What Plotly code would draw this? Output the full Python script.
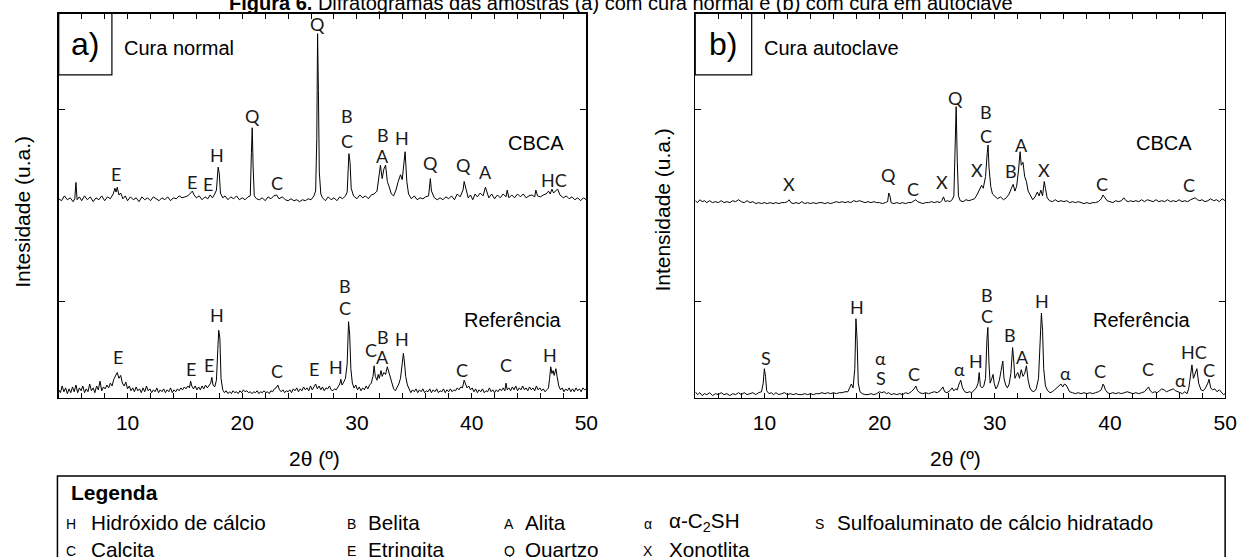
import plotly.graph_objects as go

# ---------------- data (2theta in degrees, intensity in a.u.) ----------------
# Panel a) Cura normal - CBCA (offset pattern)
a_cbca = [
    (4.0, 2.07), (4.25, 2.05), (4.5, 2.10), (4.75, 2.06), (5.0, 2.08), (5.25, 2.04), (5.4, 2.07), (5.5, 2.24),
    (5.6, 2.06), (5.8, 2.09), (6.0, 2.05), (6.25, 2.10), (6.5, 2.06), (6.75, 2.09), (7.0, 2.04), (7.25, 2.08),
    (7.5, 2.06), (7.75, 2.10), (8.0, 2.05), (8.25, 2.09), (8.5, 2.07), (8.75, 2.12), (8.9, 2.18), (9.0, 2.14),
    (9.1, 2.19), (9.25, 2.11), (9.4, 2.13), (9.6, 2.07), (9.8, 2.10), (10.0, 2.05), (10.25, 2.09), (10.5, 2.06),
    (10.75, 2.08), (11.0, 2.04), (11.25, 2.09), (11.5, 2.06), (11.75, 2.08), (12.0, 2.05), (12.25, 2.09),
    (12.5, 2.07), (12.75, 2.05), (13.0, 2.08), (13.25, 2.06), (13.5, 2.09), (13.75, 2.05), (14.0, 2.08),
    (14.25, 2.07), (14.5, 2.10), (14.75, 2.08), (15.0, 2.09), (15.25, 2.10), (15.5, 2.13), (15.65, 2.15),
    (15.8, 2.11), (16.0, 2.08), (16.25, 2.10), (16.5, 2.06), (16.75, 2.09), (17.0, 2.07), (17.2, 2.11),
    (17.4, 2.08), (17.6, 2.12), (17.75, 2.16), (17.9, 2.40), (18.0, 2.33), (18.1, 2.13), (18.3, 2.08),
    (18.5, 2.10), (18.75, 2.06), (19.0, 2.09), (19.25, 2.07), (19.5, 2.10), (19.75, 2.06), (20.0, 2.08),
    (20.25, 2.06), (20.5, 2.09), (20.7, 2.10), (20.8, 2.55), (20.87, 2.81), (20.95, 2.40), (21.05, 2.10),
    (21.25, 2.07), (21.5, 2.06), (21.75, 2.08), (22.0, 2.05), (22.25, 2.09), (22.5, 2.07), (22.75, 2.10),
    (23.0, 2.11), (23.2, 2.07), (23.5, 2.09), (23.75, 2.06), (24.0, 2.05), (24.25, 2.07), (24.5, 2.05),
    (24.75, 2.06), (25.0, 2.04), (25.25, 2.06), (25.5, 2.05), (25.75, 2.07), (26.0, 2.06), (26.25, 2.10),
    (26.4, 2.15), (26.5, 2.70), (26.57, 3.79), (26.64, 3.20), (26.72, 2.35), (26.85, 2.12), (27.0, 2.08),
    (27.25, 2.05), (27.5, 2.09), (27.75, 2.06), (28.0, 2.08), (28.25, 2.05), (28.5, 2.09), (28.75, 2.07),
    (29.0, 2.10), (29.15, 2.14), (29.3, 2.54), (29.4, 2.45), (29.5, 2.18), (29.7, 2.10), (30.0, 2.07),
    (30.25, 2.11), (30.5, 2.08), (30.75, 2.10), (31.0, 2.07), (31.25, 2.11), (31.5, 2.12), (31.75, 2.15),
    (31.9, 2.30), (32.05, 2.42), (32.2, 2.28), (32.35, 2.38), (32.5, 2.42), (32.65, 2.25), (32.8, 2.20),
    (33.0, 2.12), (33.2, 2.10), (33.4, 2.16), (33.6, 2.25), (33.8, 2.32), (33.95, 2.27), (34.1, 2.50),
    (34.2, 2.56), (34.35, 2.25), (34.5, 2.12), (34.75, 2.07), (35.0, 2.10), (35.25, 2.06), (35.5, 2.08),
    (35.75, 2.07), (36.0, 2.09), (36.25, 2.10), (36.4, 2.28), (36.5, 2.15), (36.75, 2.08), (37.0, 2.06),
    (37.25, 2.08), (37.5, 2.06), (37.75, 2.09), (38.0, 2.07), (38.25, 2.10), (38.5, 2.06), (38.75, 2.12),
    (39.0, 2.09), (39.25, 2.16), (39.35, 2.25), (39.5, 2.18), (39.7, 2.08), (39.9, 2.11), (40.1, 2.06),
    (40.3, 2.12), (40.5, 2.09), (40.75, 2.13), (41.0, 2.10), (41.2, 2.19), (41.35, 2.14), (41.5, 2.08),
    (41.75, 2.12), (42.0, 2.07), (42.25, 2.11), (42.5, 2.08), (42.75, 2.12), (43.0, 2.09), (43.1, 2.16),
    (43.25, 2.08), (43.5, 2.11), (43.75, 2.08), (44.0, 2.12), (44.25, 2.09), (44.5, 2.12), (44.75, 2.08),
    (45.0, 2.10), (45.25, 2.11), (45.5, 2.09), (45.6, 2.16), (45.75, 2.10), (46.0, 2.09), (46.25, 2.11),
    (46.5, 2.12), (46.7, 2.15), (46.85, 2.12), (47.0, 2.17), (47.15, 2.13), (47.3, 2.15), (47.5, 2.17),
    (47.7, 2.11), (48.0, 2.08), (48.25, 2.10), (48.5, 2.07), (48.75, 2.09), (49.0, 2.06), (49.25, 2.08),
    (49.5, 2.05), (49.75, 2.08), (50.0, 2.06),
]

# Panel a) Cura normal - Referencia
a_ref = [
    (4.0, 0.08), (4.15, 0.05), (4.3, 0.12), (4.45, 0.06), (4.6, 0.10), (4.75, 0.04), (4.9, 0.09), (5.05, 0.05),
    (5.2, 0.11), (5.35, 0.06), (5.5, 0.13), (5.65, 0.05), (5.8, 0.10), (5.95, 0.07), (6.1, 0.12), (6.25, 0.05),
    (6.4, 0.09), (6.55, 0.06), (6.7, 0.14), (6.85, 0.07), (7.0, 0.10), (7.15, 0.05), (7.3, 0.12), (7.45, 0.08),
    (7.6, 0.17), (7.75, 0.07), (7.9, 0.11), (8.05, 0.09), (8.2, 0.13), (8.35, 0.10), (8.5, 0.15), (8.65, 0.12),
    (8.8, 0.19), (8.95, 0.22), (9.1, 0.26), (9.25, 0.20), (9.4, 0.23), (9.55, 0.15), (9.7, 0.12), (9.85, 0.16),
    (10.0, 0.09), (10.15, 0.12), (10.3, 0.07), (10.45, 0.10), (10.6, 0.06), (10.75, 0.11), (10.9, 0.07),
    (11.05, 0.09), (11.2, 0.05), (11.35, 0.10), (11.5, 0.06), (11.65, 0.12), (11.8, 0.07), (11.95, 0.09),
    (12.1, 0.05), (12.25, 0.08), (12.4, 0.06), (12.55, 0.10), (12.7, 0.05), (12.85, 0.08), (13.0, 0.06),
    (13.15, 0.09), (13.3, 0.05), (13.45, 0.08), (13.6, 0.06), (13.75, 0.10), (13.9, 0.05), (14.05, 0.08),
    (14.2, 0.06), (14.35, 0.09), (14.5, 0.07), (14.65, 0.10), (14.8, 0.08), (14.95, 0.11), (15.1, 0.09),
    (15.25, 0.12), (15.4, 0.10), (15.5, 0.17), (15.6, 0.12), (15.75, 0.09), (15.9, 0.12), (16.05, 0.08),
    (16.2, 0.11), (16.35, 0.08), (16.5, 0.12), (16.65, 0.09), (16.8, 0.13), (16.95, 0.10), (17.1, 0.12),
    (17.25, 0.15), (17.35, 0.21), (17.45, 0.13), (17.6, 0.11), (17.75, 0.18), (17.87, 0.50), (17.95, 0.70),
    (18.05, 0.62), (18.15, 0.20), (18.3, 0.08), (18.45, 0.05), (18.6, 0.07), (18.75, 0.04), (18.9, 0.06),
    (19.05, 0.04), (19.2, 0.07), (19.35, 0.05), (19.5, 0.06), (19.65, 0.04), (19.8, 0.07), (19.95, 0.05),
    (20.1, 0.08), (20.25, 0.06), (20.4, 0.07), (20.55, 0.05), (20.7, 0.06), (20.85, 0.04), (21.0, 0.06),
    (21.15, 0.05), (21.3, 0.07), (21.45, 0.04), (21.6, 0.06), (21.75, 0.05), (21.9, 0.07), (22.05, 0.05),
    (22.2, 0.06), (22.35, 0.04), (22.5, 0.07), (22.65, 0.06), (22.8, 0.09), (22.95, 0.10), (23.1, 0.13),
    (23.25, 0.08), (23.4, 0.06), (23.55, 0.08), (23.7, 0.05), (23.85, 0.07), (24.0, 0.06), (24.15, 0.08),
    (24.3, 0.05), (24.45, 0.09), (24.6, 0.07), (24.75, 0.10), (24.9, 0.06), (25.05, 0.09), (25.2, 0.07),
    (25.35, 0.11), (25.5, 0.08), (25.65, 0.10), (25.8, 0.07), (25.95, 0.12), (26.1, 0.08), (26.25, 0.11),
    (26.4, 0.14), (26.55, 0.09), (26.7, 0.12), (26.85, 0.08), (27.0, 0.11), (27.15, 0.07), (27.3, 0.10),
    (27.45, 0.09), (27.6, 0.12), (27.75, 0.08), (27.9, 0.07), (28.05, 0.09), (28.2, 0.08), (28.35, 0.11),
    (28.5, 0.14), (28.6, 0.19), (28.7, 0.13), (28.85, 0.16), (29.0, 0.20), (29.15, 0.35), (29.27, 0.79),
    (29.37, 0.65), (29.47, 0.30), (29.6, 0.15), (29.75, 0.10), (29.9, 0.13), (30.05, 0.08), (30.2, 0.11),
    (30.35, 0.07), (30.5, 0.10), (30.65, 0.08), (30.8, 0.12), (30.95, 0.09), (31.1, 0.13), (31.25, 0.15),
    (31.4, 0.22), (31.5, 0.33), (31.6, 0.22), (31.75, 0.18), (31.85, 0.24), (31.95, 0.20), (32.1, 0.28),
    (32.2, 0.22), (32.35, 0.26), (32.5, 0.24), (32.65, 0.32), (32.75, 0.28), (32.9, 0.20), (33.05, 0.14),
    (33.2, 0.09), (33.35, 0.07), (33.5, 0.10), (33.65, 0.14), (33.8, 0.20), (33.95, 0.35), (34.05, 0.46),
    (34.15, 0.36), (34.25, 0.22), (34.4, 0.13), (34.55, 0.08), (34.7, 0.05), (34.85, 0.08), (35.0, 0.06),
    (35.15, 0.09), (35.3, 0.05), (35.45, 0.08), (35.6, 0.06), (35.75, 0.09), (35.9, 0.05), (36.05, 0.07),
    (36.2, 0.06), (36.35, 0.09), (36.5, 0.05), (36.65, 0.08), (36.8, 0.06), (36.95, 0.09), (37.1, 0.05),
    (37.25, 0.07), (37.4, 0.06), (37.55, 0.09), (37.7, 0.05), (37.85, 0.08), (38.0, 0.06), (38.15, 0.09),
    (38.3, 0.06), (38.45, 0.08), (38.6, 0.07), (38.75, 0.10), (38.9, 0.08), (39.05, 0.11), (39.2, 0.10),
    (39.35, 0.18), (39.45, 0.14), (39.6, 0.10), (39.75, 0.12), (39.9, 0.08), (40.05, 0.10), (40.2, 0.06),
    (40.35, 0.09), (40.5, 0.05), (40.65, 0.08), (40.8, 0.06), (40.95, 0.09), (41.1, 0.05), (41.25, 0.07),
    (41.4, 0.06), (41.55, 0.10), (41.7, 0.06), (41.85, 0.08), (42.0, 0.05), (42.15, 0.08), (42.3, 0.06),
    (42.45, 0.09), (42.6, 0.07), (42.75, 0.10), (42.9, 0.07), (43.0, 0.15), (43.1, 0.08), (43.25, 0.10),
    (43.4, 0.07), (43.55, 0.11), (43.7, 0.08), (43.85, 0.12), (44.0, 0.07), (44.15, 0.10), (44.3, 0.08),
    (44.45, 0.12), (44.6, 0.08), (44.75, 0.10), (44.9, 0.07), (45.05, 0.11), (45.2, 0.08), (45.35, 0.10),
    (45.5, 0.07), (45.65, 0.12), (45.8, 0.08), (45.95, 0.10), (46.1, 0.07), (46.25, 0.09), (46.4, 0.06),
    (46.55, 0.08), (46.7, 0.10), (46.8, 0.20), (46.9, 0.32), (47.0, 0.25), (47.1, 0.28), (47.2, 0.23),
    (47.35, 0.30), (47.45, 0.22), (47.6, 0.12), (47.75, 0.08), (47.9, 0.10), (48.05, 0.06), (48.2, 0.09),
    (48.35, 0.07), (48.5, 0.10), (48.65, 0.06), (48.8, 0.09), (48.95, 0.06), (49.1, 0.10), (49.25, 0.07),
    (49.4, 0.09), (49.55, 0.06), (49.7, 0.10), (49.85, 0.08), (50.0, 0.09),
]

# Panel b) Cura autoclave - CBCA (offset pattern)
b_cbca = [
    (4.0, 2.05), (4.2, 2.03), (4.4, 2.06), (4.6, 2.04), (4.8, 2.05), (5.0, 2.03), (5.25, 2.05), (5.5, 2.03),
    (5.75, 2.04), (6.0, 2.03), (6.25, 2.05), (6.5, 2.03), (6.75, 2.04), (7.0, 2.03), (7.25, 2.05), (7.5, 2.04),
    (7.75, 2.06), (8.0, 2.04), (8.25, 2.03), (8.5, 2.05), (8.75, 2.03), (9.0, 2.04), (9.25, 2.02), (9.5, 2.03),
    (9.75, 2.02), (10.0, 2.03), (10.25, 2.02), (10.5, 2.03), (10.75, 2.02), (11.0, 2.03), (11.25, 2.02),
    (11.5, 2.03), (11.75, 2.03), (12.0, 2.04), (12.15, 2.06), (12.3, 2.03), (12.5, 2.02), (12.75, 2.03),
    (13.0, 2.02), (13.25, 2.04), (13.5, 2.02), (13.75, 2.03), (14.0, 2.02), (14.25, 2.03), (14.5, 2.02),
    (14.75, 2.03), (15.0, 2.03), (15.25, 2.02), (15.5, 2.03), (15.75, 2.02), (16.0, 2.03), (16.25, 2.04),
    (16.5, 2.03), (16.75, 2.04), (17.0, 2.03), (17.25, 2.04), (17.5, 2.03), (17.75, 2.05), (18.0, 2.04),
    (18.25, 2.05), (18.5, 2.04), (18.75, 2.03), (19.0, 2.04), (19.25, 2.03), (19.5, 2.04), (19.75, 2.03),
    (20.0, 2.03), (20.25, 2.02), (20.5, 2.03), (20.7, 2.04), (20.8, 2.13), (20.9, 2.10), (21.0, 2.03),
    (21.25, 2.02), (21.5, 2.03), (21.75, 2.02), (22.0, 2.03), (22.25, 2.02), (22.5, 2.03), (22.75, 2.03),
    (23.0, 2.05), (23.15, 2.06), (23.3, 2.04), (23.5, 2.03), (23.75, 2.02), (24.0, 2.03), (24.25, 2.03),
    (24.5, 2.04), (24.75, 2.03), (25.0, 2.04), (25.25, 2.03), (25.4, 2.05), (25.55, 2.09), (25.7, 2.04),
    (25.9, 2.05), (26.1, 2.04), (26.3, 2.06), (26.45, 2.10), (26.55, 2.55), (26.65, 3.03), (26.75, 2.45),
    (26.85, 2.10), (27.0, 2.05), (27.25, 2.04), (27.5, 2.06), (27.75, 2.05), (28.0, 2.06), (28.25, 2.07),
    (28.5, 2.12), (28.7, 2.17), (28.85, 2.21), (29.0, 2.18), (29.2, 2.30), (29.35, 2.55), (29.42, 2.63),
    (29.5, 2.40), (29.65, 2.20), (29.8, 2.12), (30.0, 2.10), (30.25, 2.07), (30.5, 2.09), (30.75, 2.06),
    (31.0, 2.08), (31.25, 2.12), (31.45, 2.18), (31.6, 2.22), (31.75, 2.15), (31.9, 2.20), (32.05, 2.35),
    (32.2, 2.56), (32.3, 2.42), (32.45, 2.45), (32.6, 2.30), (32.75, 2.25), (32.9, 2.15), (33.1, 2.10),
    (33.3, 2.06), (33.5, 2.09), (33.7, 2.14), (33.85, 2.10), (34.0, 2.16), (34.15, 2.10), (34.3, 2.25),
    (34.4, 2.18), (34.55, 2.08), (34.75, 2.05), (35.0, 2.04), (35.25, 2.06), (35.5, 2.04), (35.75, 2.05),
    (36.0, 2.04), (36.25, 2.05), (36.5, 2.03), (36.75, 2.04), (37.0, 2.03), (37.25, 2.04), (37.5, 2.03),
    (37.75, 2.02), (38.0, 2.03), (38.25, 2.02), (38.5, 2.03), (38.75, 2.03), (39.0, 2.04), (39.25, 2.07),
    (39.4, 2.11), (39.55, 2.08), (39.75, 2.05), (40.0, 2.04), (40.25, 2.03), (40.5, 2.05), (40.75, 2.04),
    (41.0, 2.05), (41.2, 2.08), (41.4, 2.05), (41.6, 2.04), (41.8, 2.05), (42.0, 2.04), (42.25, 2.05),
    (42.5, 2.04), (42.75, 2.06), (43.0, 2.04), (43.25, 2.06), (43.5, 2.05), (43.75, 2.04), (44.0, 2.06),
    (44.25, 2.04), (44.5, 2.05), (44.75, 2.04), (45.0, 2.06), (45.25, 2.04), (45.5, 2.05), (45.75, 2.04),
    (46.0, 2.06), (46.25, 2.04), (46.5, 2.05), (46.75, 2.04), (47.0, 2.06), (47.25, 2.07), (47.4, 2.08),
    (47.6, 2.06), (47.8, 2.05), (48.0, 2.06), (48.25, 2.04), (48.5, 2.05), (48.75, 2.07), (49.0, 2.05),
    (49.25, 2.06), (49.5, 2.04), (49.75, 2.07), (50.0, 2.05),
]

# Panel b) Cura autoclave - Referencia
b_ref = [
    (4.0, 0.06), (4.2, 0.03), (4.4, 0.05), (4.6, 0.02), (4.8, 0.04), (5.0, 0.03), (5.25, 0.05), (5.5, 0.02),
    (5.75, 0.04), (6.0, 0.03), (6.25, 0.05), (6.5, 0.03), (6.75, 0.04), (7.0, 0.02), (7.25, 0.04), (7.5, 0.03),
    (7.75, 0.05), (8.0, 0.03), (8.25, 0.05), (8.5, 0.03), (8.75, 0.04), (9.0, 0.05), (9.25, 0.03), (9.5, 0.05),
    (9.75, 0.06), (9.9, 0.15), (10.0, 0.30), (10.1, 0.22), (10.2, 0.07), (10.4, 0.04), (10.6, 0.05),
    (10.8, 0.03), (11.0, 0.05), (11.25, 0.03), (11.5, 0.04), (11.75, 0.05), (12.0, 0.03), (12.25, 0.04),
    (12.5, 0.03), (12.75, 0.04), (13.0, 0.03), (13.25, 0.03), (13.5, 0.04), (13.75, 0.03), (14.0, 0.04),
    (14.25, 0.03), (14.5, 0.04), (14.75, 0.04), (15.0, 0.05), (15.25, 0.04), (15.5, 0.05), (15.75, 0.04),
    (16.0, 0.05), (16.25, 0.04), (16.5, 0.05), (16.75, 0.05), (17.0, 0.06), (17.25, 0.06), (17.4, 0.10),
    (17.55, 0.14), (17.7, 0.10), (17.85, 0.30), (17.95, 0.82), (18.05, 0.60), (18.15, 0.15), (18.3, 0.06),
    (18.5, 0.04), (18.75, 0.03), (19.0, 0.03), (19.25, 0.04), (19.5, 0.03), (19.75, 0.04), (20.0, 0.06),
    (20.2, 0.05), (20.4, 0.06), (20.6, 0.04), (20.8, 0.05), (21.0, 0.03), (21.25, 0.04), (21.5, 0.03),
    (21.75, 0.04), (22.0, 0.03), (22.25, 0.05), (22.5, 0.04), (22.75, 0.06), (23.0, 0.09), (23.15, 0.12),
    (23.3, 0.07), (23.5, 0.05), (23.75, 0.04), (24.0, 0.05), (24.25, 0.04), (24.5, 0.05), (24.75, 0.06),
    (25.0, 0.05), (25.25, 0.07), (25.5, 0.11), (25.65, 0.06), (25.85, 0.05), (26.1, 0.07), (26.3, 0.10),
    (26.45, 0.07), (26.6, 0.09), (26.75, 0.08), (26.9, 0.14), (27.05, 0.18), (27.2, 0.10), (27.4, 0.06),
    (27.6, 0.05), (27.8, 0.06), (28.0, 0.05), (28.2, 0.07), (28.4, 0.10), (28.55, 0.15), (28.65, 0.26),
    (28.75, 0.12), (28.9, 0.10), (29.05, 0.12), (29.2, 0.20), (29.32, 0.60), (29.4, 0.73), (29.5, 0.35),
    (29.6, 0.15), (29.75, 0.20), (29.85, 0.24), (29.95, 0.15), (30.1, 0.09), (30.25, 0.12), (30.4, 0.18),
    (30.55, 0.28), (30.7, 0.38), (30.8, 0.20), (30.95, 0.13), (31.1, 0.10), (31.25, 0.14), (31.4, 0.25),
    (31.55, 0.52), (31.65, 0.38), (31.75, 0.20), (31.9, 0.24), (32.0, 0.26), (32.15, 0.20), (32.3, 0.29),
    (32.45, 0.22), (32.6, 0.25), (32.75, 0.33), (32.9, 0.18), (33.05, 0.10), (33.2, 0.07), (33.4, 0.06),
    (33.6, 0.09), (33.8, 0.20), (33.95, 0.55), (34.05, 0.88), (34.15, 0.70), (34.25, 0.30), (34.4, 0.12),
    (34.6, 0.07), (34.8, 0.05), (35.0, 0.06), (35.2, 0.08), (35.4, 0.10), (35.6, 0.12), (35.75, 0.14),
    (35.9, 0.11), (36.05, 0.14), (36.2, 0.13), (36.35, 0.09), (36.5, 0.06), (36.75, 0.05), (37.0, 0.04),
    (37.25, 0.05), (37.5, 0.04), (37.75, 0.05), (38.0, 0.04), (38.25, 0.05), (38.5, 0.04), (38.75, 0.05),
    (39.0, 0.06), (39.25, 0.08), (39.4, 0.14), (39.5, 0.12), (39.6, 0.08), (39.8, 0.05), (40.0, 0.04),
    (40.25, 0.05), (40.5, 0.04), (40.75, 0.05), (41.0, 0.04), (41.25, 0.05), (41.5, 0.06), (41.75, 0.05),
    (42.0, 0.04), (42.25, 0.05), (42.5, 0.04), (42.75, 0.05), (43.0, 0.06), (43.2, 0.09), (43.35, 0.11),
    (43.5, 0.07), (43.7, 0.05), (43.9, 0.06), (44.1, 0.05), (44.3, 0.07), (44.5, 0.09), (44.7, 0.08),
    (44.9, 0.06), (45.1, 0.07), (45.3, 0.08), (45.5, 0.09), (45.7, 0.07), (45.9, 0.06), (46.1, 0.05),
    (46.3, 0.04), (46.5, 0.06), (46.7, 0.04), (46.85, 0.10), (47.0, 0.22), (47.12, 0.34), (47.25, 0.20),
    (47.4, 0.25), (47.55, 0.30), (47.7, 0.15), (47.9, 0.08), (48.1, 0.07), (48.3, 0.10), (48.5, 0.15),
    (48.6, 0.19), (48.75, 0.10), (48.9, 0.08), (49.1, 0.09), (49.3, 0.06), (49.5, 0.08), (49.7, 0.05),
    (49.85, 0.03), (50.0, 0.04),
]

# Phase labels: (letter, 2theta, intensity)
a_cbca_labels = [
    ("E", 8.95, 2.33), ("E", 15.6, 2.25), ("E", 17.0, 2.22), ("H", 17.8, 2.53), ("Q", 20.9, 2.93),
    ("C", 23.0, 2.23), ("Q", 26.57, 3.895), ("B", 29.15, 2.93), ("C", 29.15, 2.67), ("B", 32.3, 2.73),
    ("A", 32.2, 2.52), ("H", 33.95, 2.70), ("Q", 36.4, 2.44), ("Q", 39.3, 2.42), ("A", 41.2, 2.35),
    ("HC", 47.2, 2.27),
]
a_ref_labels = [
    ("E", 9.16, 0.42), ("E", 15.5, 0.30), ("E", 17.1, 0.34), ("H", 17.8, 0.86), ("C", 23.0, 0.28),
    ("E", 26.3, 0.30), ("H", 28.2, 0.32), ("B", 29.0, 1.16), ("C", 29.0, 0.93), ("C", 31.2, 0.49),
    ("B", 32.3, 0.63), ("A", 32.2, 0.42), ("H", 33.9, 0.61), ("C", 39.2, 0.29), ("C", 43.0, 0.34),
    ("H", 46.8, 0.44),
]
b_cbca_labels = [
    ("X", 12.15, 2.22), ("Q", 20.75, 2.32), ("C", 22.9, 2.17), ("X", 25.4, 2.25), ("Q", 26.6, 3.12),
    ("X", 28.5, 2.37), ("B", 29.2, 2.97), ("C", 29.2, 2.72), ("B", 31.4, 2.36), ("A", 32.3, 2.63),
    ("X", 34.3, 2.37), ("C", 39.3, 2.22), ("C", 46.9, 2.21),
]
b_ref_labels = [
    ("S", 10.16, 0.41), ("H", 18.0, 0.94), ("α", 20.1, 0.41), ("S", 20.1, 0.20), ("C", 23.0, 0.25),
    ("α", 26.9, 0.30), ("H", 28.4, 0.38), ("B", 29.35, 1.07), ("C", 29.35, 0.85), ("B", 31.35, 0.65),
    ("A", 32.45, 0.42), ("H", 34.1, 1.01), ("α", 36.1, 0.26), ("C", 39.15, 0.28), ("C", 43.3, 0.30),
    ("α", 46.1, 0.18), ("HC", 47.3, 0.47), ("C", 48.6, 0.29),
]

x_ticks = [10, 20, 30, 40, 50]
y_ticks = [1, 3]

legend_rows = [
    [("H", "Hidróxido de cálcio"), ("B", "Belita"), ("A", "Alita"), ("α", "α-C<sub>2</sub>SH"),
     ("S", "Sulfoaluminato de cálcio hidratado")],
    [("C", "Calcita"), ("E", "Etringita"), ("Q", "Quartzo"), ("X", "Xonotlita")],
]

title_text = "<b>Figura 6.</b> Difratogramas das amostras (a) com cura normal e (b) com cura em autoclave"

# ---------------- figure ----------------
W, H = 1250, 557
ARIAL = "Liberation Sans, Arial, sans-serif"
PEAKF = "Lato, Open Sans, sans-serif"


def px(xp):
    return xp / W


def py(yp):
    return 1 - yp / H


fig = go.Figure()
for data, xa, ya in [(a_cbca, "x", "y"), (a_ref, "x", "y"), (b_cbca, "x2", "y2"), (b_ref, "x2", "y2")]:
    xs = [p[0] for p in data]
    ys = [p[1] for p in data]
    fig.add_trace(go.Scatter(x=xs, y=ys, mode="lines", xaxis=xa, yaxis=ya,
                             line=dict(color="black", width=1), hoverinfo="skip"))

xaxis_style = dict(range=[4, 50], tickvals=x_ticks, ticks="inside", ticklen=5, tickwidth=1,
                   tickcolor="black", showline=True, linecolor="black", linewidth=1.3, mirror="ticks",
                   showgrid=False, zeroline=False, ticklabelstandoff=6,
                   tickfont=dict(family=ARIAL, size=21, color="black"),
                   minor=dict(dtick=2, tick0=0, ticks="inside", ticklen=5, tickcolor="black", showgrid=False))
yaxis_style = dict(range=[0, 4], tickvals=y_ticks, ticks="inside", ticklen=6, tickwidth=1,
                   tickcolor="black", showline=True, linecolor="black", linewidth=1.3, mirror="ticks",
                   showgrid=False, zeroline=False, showticklabels=False)

ydom = [py(397.5), py(13.5)]
fig.update_layout(
    width=W, height=H, margin=dict(l=0, r=0, t=0, b=0),
    paper_bgcolor="white", plot_bgcolor="white", showlegend=False,
    xaxis=dict(domain=[px(59.3), px(592)], anchor="y", **xaxis_style),
    yaxis=dict(domain=ydom, anchor="x", **yaxis_style),
    xaxis2=dict(domain=[px(702), px(1237)], anchor="y2", **xaxis_style),
    yaxis2=dict(domain=ydom, anchor="x2", **yaxis_style),
)

ann = []
for labels, xa, ya in [(a_cbca_labels, "x", "y"), (a_ref_labels, "x", "y"),
                       (b_cbca_labels, "x2", "y2"), (b_ref_labels, "x2", "y2")]:
    for t, xv, yv in labels:
        ann.append(dict(text=t, x=xv, y=yv, xref=xa, yref=ya, showarrow=False,
                        xanchor="center", yanchor="middle",
                        font=dict(family=PEAKF, size=18, color="#1a1a1a")))

# series names
ann += [
    dict(text="CBCA", x=45.6, y=2.65, xref="x", yref="y", showarrow=False,
         font=dict(family=ARIAL, size=20, color="black")),
    dict(text="Referência", x=43.6, y=0.81, xref="x", yref="y", showarrow=False,
         font=dict(family=ARIAL, size=20, color="black")),
    dict(text="CBCA", x=44.7, y=2.65, xref="x2", yref="y2", showarrow=False,
         font=dict(family=ARIAL, size=20, color="black")),
    dict(text="Referência", x=42.8, y=0.81, xref="x2", yref="y2", showarrow=False,
         font=dict(family=ARIAL, size=20, color="black")),
]

# panel tags and curing labels
for tag, cura, xa, ya, boxw in [("a)", "Cura normal", "x", "y", 0.1008), ("b)", "Cura autoclave", "x2", "y2", 0.1065)]:
    ann.append(dict(text=tag, x=boxw / 2, y=1 - 0.08, xref=xa + " domain", yref=ya + " domain",
                    showarrow=False, xanchor="center", yanchor="middle",
                    font=dict(family=ARIAL, size=32, color="black")))
    ann.append(dict(text=cura, x=boxw + 0.02, y=1 - 0.09, xref=xa + " domain", yref=ya + " domain",
                    showarrow=False, xanchor="left", yanchor="middle",
                    font=dict(family=ARIAL, size=20, color="black")))
    fig.add_shape(type="rect", xref=xa + " domain", yref=ya + " domain", x0=0, x1=boxw, y0=0.84, y1=1,
                  line=dict(color="black", width=1.2))

# axis titles
ann += [
    dict(text="Intesidade (u.a.)", x=px(22), y=py(212), xref="paper", yref="paper", textangle=-90,
         showarrow=False, xanchor="center", yanchor="middle", font=dict(family=ARIAL, size=21, color="black")),
    dict(text="Intensidade (u.a.)", x=px(668), y=py(210), xref="paper", yref="paper", textangle=-90,
         showarrow=False, xanchor="center", yanchor="middle", font=dict(family=ARIAL, size=21, color="black")),
    dict(text="2θ (º)", x=px(318), y=py(458), xref="paper", yref="paper", showarrow=False,
         xanchor="center", yanchor="middle", font=dict(family=ARIAL, size=21, color="black")),
    dict(text="2θ (º)", x=px(965), y=py(458), xref="paper", yref="paper", showarrow=False,
         xanchor="center", yanchor="middle", font=dict(family=ARIAL, size=21, color="black")),
    dict(text=title_text, x=px(627), y=py(16), xref="paper", yref="paper", showarrow=False,
         xanchor="center", yanchor="bottom", font=dict(family=ARIAL, size=20, color="black")),
]

# legend box
fig.add_shape(type="rect", xref="paper", yref="paper", x0=px(58), x1=px(1237), y0=-0.1, y1=py(476),
              line=dict(color="black", width=1.5))
ann.append(dict(text="<b>Legenda</b>", x=px(70), y=py(492), xref="paper", yref="paper", showarrow=False,
                xanchor="left", yanchor="middle", font=dict(family=ARIAL, size=21, color="black")))
col_sym = [72, 355, 514, 654, 827]
col_txt = [90, 370, 528, 673, 843]
row_y = [522, 549]
for r, row in enumerate(legend_rows):
    for c, (sym, name) in enumerate(row):
        ann.append(dict(text=sym, x=px(col_sym[c]), y=py(row_y[r] + 2), xref="paper", yref="paper",
                        showarrow=False, xanchor="center", yanchor="middle",
                        font=dict(family=ARIAL, size=14, color="black")))
        ann.append(dict(text=name, x=px(col_txt[c]), y=py(row_y[r]), xref="paper", yref="paper",
                        showarrow=False, xanchor="left", yanchor="middle",
                        font=dict(family=ARIAL, size=20.7, color="black")))

fig.update_layout(annotations=ann)
fig.write_html("out.html", config={"displayModeBar": False, "staticPlot": True},
               post_script="document.body.style.margin='0';document.body.style.overflow='hidden';")
